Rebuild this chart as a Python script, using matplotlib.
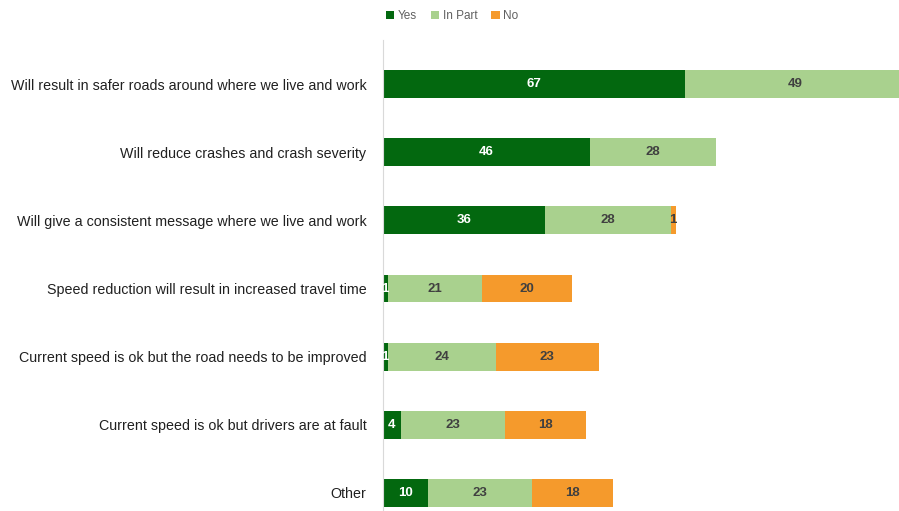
import numpy as np
import matplotlib.pyplot as plt

plt.rcParams['font.family'] = ['Liberation Sans', 'DejaVu Sans']

categories = ['Will result in safer roads around where we live and work',
              'Will reduce crashes and crash severity',
              'Will give a consistent message where we live and work',
              'Speed reduction will result in increased travel time',
              'Current speed is ok but the road needs to be improved',
              'Current speed is ok but drivers are at fault',
              'Other']
yes = [67, 46, 36, 1, 1, 4, 10]
in_part = [49, 28, 28, 21, 24, 23, 23]
no = [0, 0, 1, 20, 23, 18, 18]

series = [('Yes', yes, '#03680f', 'white'),
          ('In Part', in_part, '#a9d18e', '#404040'),
          ('No', no, '#f59a2c', '#404040')]

W, H = 899, 511
fig = plt.figure(figsize=(W / 100, H / 100), dpi=100)
ax = fig.add_axes([383 / W, 0, 1 - 383 / W, 1 - 40 / H])

y = np.arange(len(categories))
left = np.zeros(len(categories))
for name, vals, col, tcol in series:
    vals = np.array(vals, dtype=float)
    bars = ax.barh(y, vals, left=left, height=0.41, color=col, label=name)
    for b, v in zip(bars, vals):
        if v > 0:
            ax.text(b.get_x() + b.get_width() / 2, b.get_y() + b.get_height() / 2,
                    f'{int(v)}', ha='center', va='center', color=tcol,
                    fontsize=9.5, fontweight='bold')
    left += vals

ax.set_xlim(0, (W - 383) / 4.5)
ax.set_ylim(6.265, -0.647)
ax.set_yticks(y)
ax.set_yticklabels(categories, fontsize=10.3, color='#202020')
ax.tick_params(axis='y', length=0, pad=12)
ax.set_xticks([])
for s in ['top', 'right', 'bottom']:
    ax.spines[s].set_visible(False)
ax.spines['left'].set_color('#d9d9d9')

fig.legend(loc='center', bbox_to_anchor=(452 / W, 1 - 16 / H), ncol=3,
           frameon=False, fontsize=8.5, handlelength=0.7, handleheight=0.7,
           handletextpad=0.3, columnspacing=1.2, labelcolor='#606060')

fig.savefig('out.png', dpi=100)
